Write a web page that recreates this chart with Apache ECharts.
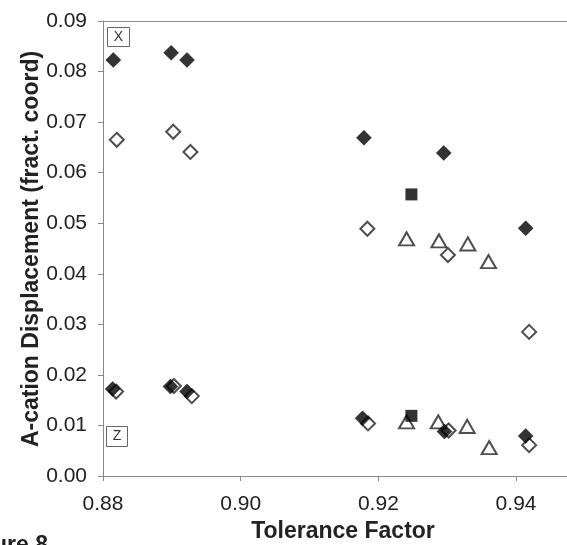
<!DOCTYPE html>
<html>
<head>
<meta charset="utf-8">
<style>html,body{margin:0;padding:0;background:#fff}#c{width:567px;height:545px}</style>
<script src="https://cdn.jsdelivr.net/npm/echarts@6/dist/echarts.min.js"></script>
</head>
<body>
<div id="c"></div>
<script>
// Tolerance factor / displacement data
const filledDiamondX = [0.8815, 0.8899, 0.8922, 0.9179, 0.9295, 0.9414, 0.8814, 0.8898, 0.8922, 0.9177, 0.9296, 0.9414];
const filledDiamondY = [0.0823, 0.0837, 0.0823, 0.0669, 0.0639, 0.0490, 0.0172, 0.0177, 0.0167, 0.0114, 0.0088, 0.0079];
const openDiamondX = [0.8820, 0.8902, 0.8927, 0.9184, 0.9301, 0.9419, 0.8819, 0.8903, 0.8929, 0.9185, 0.9302, 0.9419];
const openDiamondY = [0.0665, 0.0681, 0.0641, 0.0489, 0.0437, 0.0285, 0.0167, 0.0178, 0.0158, 0.0104, 0.0090, 0.0061];
const squareX = [0.9248, 0.9248];
const squareY = [0.0557, 0.0119];
const triangleX = [0.9241, 0.9288, 0.9330, 0.9360, 0.9241, 0.9287, 0.9329, 0.9361];
const triangleY = [0.0469, 0.0465, 0.0459, 0.0424, 0.0107, 0.0107, 0.0098, 0.0056];
const xTicks = [0.88, 0.90, 0.92, 0.94];
const yTicks = [0.00, 0.01, 0.02, 0.03, 0.04, 0.05, 0.06, 0.07, 0.08, 0.09];

const zip = (a, b) => a.map((v, i) => [v, b[i]]);
const axisGray = '#8a8a8a';
const font = 'Liberation Sans, Arial, sans-serif';

const chart = echarts.init(document.getElementById('c'));
chart.setOption({
  animation: false,
  backgroundColor: '#fff',
  grid: { left: 103, right: 0, top: 21, bottom: 69, containLabel: false },
  xAxis: [{
    type: 'value', min: 0.88, max: 0.9474, interval: 0.02,
    axisLine: { show: true, lineStyle: { color: axisGray, width: 1 } },
    axisTick: { show: true, length: 5, inside: false, lineStyle: { color: axisGray } },
    splitLine: { show: false },
    axisLabel: { margin: 18, fontSize: 21, color: '#222', fontFamily: font, showMaxLabel: false,
      formatter: v => (xTicks.some(t => Math.abs(t - v) < 1e-6) ? v.toFixed(2) : '') }
  }, {
    type: 'value', position: 'top', min: 0.88, max: 0.9474,
    axisLine: { show: true, onZero: false, lineStyle: { color: axisGray, width: 1 } },
    axisTick: { show: false }, axisLabel: { show: false }, splitLine: { show: false }
  }],
  yAxis: {
    type: 'value', min: 0, max: 0.09, interval: 0.01,
    axisLine: { show: true, lineStyle: { color: axisGray, width: 1 } },
    axisTick: { show: true, length: 5, inside: false, lineStyle: { color: axisGray } },
    splitLine: { show: false },
    axisLabel: { margin: 16, fontSize: 21, color: '#222', fontFamily: font,
      formatter: v => (yTicks.some(t => Math.abs(t - v) < 1e-6) ? v.toFixed(2) : '') }
  },
  graphic: [
    { type: 'text', x: 343, y: 532, style: { text: 'Tolerance Factor', font: 'bold 23px ' + font, fill: '#222', textAlign: 'center', textVerticalAlign: 'middle' } },
    { type: 'text', x: 32, y: 249, rotation: Math.PI / 2, style: { text: 'A-cation Displacement (fract. coord)', font: 'bold 23px ' + font, fill: '#222', textAlign: 'center', textVerticalAlign: 'middle' } },
    { type: 'text', x: 48, y: 546, style: { text: 'Figure 8', font: 'bold 23px ' + font, fill: '#222', textAlign: 'right', textVerticalAlign: 'middle' } },
    { type: 'rect', shape: { x: 107.5, y: 27.5, width: 22, height: 19 }, style: { fill: '#fff', stroke: '#666', lineWidth: 1 } },
    { type: 'text', x: 118.5, y: 37, style: { text: 'X', font: '14px ' + font, fill: '#333', textAlign: 'center', textVerticalAlign: 'middle' } },
    { type: 'rect', shape: { x: 106.5, y: 426.5, width: 21, height: 20 }, style: { fill: '#fff', stroke: '#666', lineWidth: 1 } },
    { type: 'text', x: 117, y: 436.5, style: { text: 'Z', font: '14px ' + font, fill: '#333', textAlign: 'center', textVerticalAlign: 'middle' } }
  ],
  series: [
    { name: 'open diamond', type: 'scatter', symbol: 'diamond', symbolSize: 14, data: zip(openDiamondX, openDiamondY),
      itemStyle: { color: '#fff', borderColor: '#222', borderWidth: 2 } },
    { name: 'open triangle', type: 'scatter', symbol: 'triangle', symbolSize: [15, 13], data: zip(triangleX, triangleY),
      itemStyle: { color: '#fff', borderColor: '#222', borderWidth: 2 } },
    { name: 'filled diamond', type: 'scatter', symbol: 'diamond', symbolSize: 15, data: zip(filledDiamondX, filledDiamondY),
      itemStyle: { color: '#000', borderColor: '#000', borderWidth: 0.5 } },
    { name: 'filled square', type: 'scatter', symbol: 'rect', symbolSize: 12, data: zip(squareX, squareY),
      itemStyle: { color: '#000' } }
  ]
});
</script>
</body>
</html>
